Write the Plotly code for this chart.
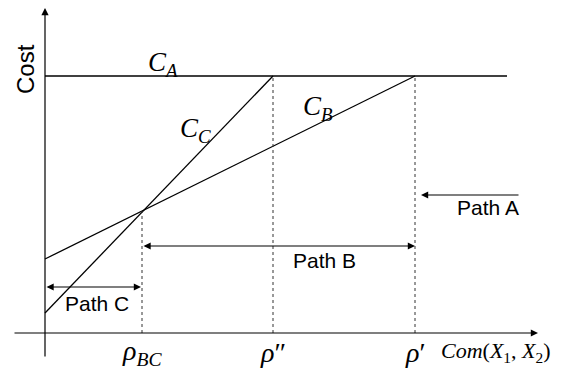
import plotly.graph_objects as go

# Values (1 unit ~ 1 px, origin at the axes corner)
rho_labels = ["<i>ρ</i><sub><i>BC</i></sub>", "<i>ρ</i>″", "<i>ρ</i>′"]
rho_values = [97, 228, 370]          # rho_BC, rho'', rho'
cost_a = 257                         # flat cost of path A
cost_b_start = 74                    # C_B at origin
cost_c_start = 20                    # C_C at origin
cost_at_rho_bc = 122                 # where C_B and C_C cross
cost_a_end = 462                     # C_A drawn up to here
path_labels = ["Path A", "Path B", "Path C"]

rho_bc, rho_pp, rho_p = rho_values

fig = go.Figure()

line = dict(color="black", width=1.3)
dash = dict(color="#333333", width=1, dash="dot")

# cost curves
fig.add_trace(go.Scatter(x=[0, cost_a_end], y=[cost_a, cost_a], mode="lines", line=line))
fig.add_trace(go.Scatter(x=[0, rho_p], y=[cost_b_start, cost_a], mode="lines", line=line))
fig.add_trace(go.Scatter(x=[0, rho_pp], y=[cost_c_start, cost_a], mode="lines", line=line))

# dotted drop lines
fig.add_trace(go.Scatter(x=[rho_bc, rho_bc], y=[0, cost_at_rho_bc], mode="lines", line=dash))
fig.add_trace(go.Scatter(x=[rho_pp, rho_pp], y=[0, cost_a], mode="lines", line=dash))
fig.add_trace(go.Scatter(x=[rho_p, rho_p], y=[0, cost_a], mode="lines", line=dash))

arrow = dict(xref="x", yref="y", axref="x", ayref="y", text="", showarrow=True,
             arrowhead=2, arrowsize=1.2, arrowwidth=1.2, arrowcolor="black",
             standoff=0, startstandoff=0)

annotations = [
    # axes
    dict(arrow, x=0, y=325, ax=0, ay=-25),
    dict(arrow, x=493, y=0, ax=-32, ay=0),
    # Path A (single, pointing left to rho')
    dict(arrow, x=rho_p + 6, y=138, ax=475, ay=138),
    # Path B (double)
    dict(arrow, x=rho_p, y=87, ax=rho_bc, ay=87, arrowside="end+start"),
    # Path C (double)
    dict(arrow, x=rho_bc - 1, y=46, ax=0, ay=46, arrowside="end+start"),
]

sans = dict(family="Liberation Sans, Arial", size=21, color="black")
serif = dict(family="Liberation Serif, Times New Roman", size=27, color="black")

for text, (px, py) in zip(path_labels, [(443, 126), (279, 73), (52, 30)]):
    annotations.append(dict(x=px, y=py, xref="x", yref="y", text=text,
                            showarrow=False, font=sans))

annotations.append(dict(x=-20, y=264, xref="x", yref="y", text="Cost", textangle=-90,
                        showarrow=False, font=dict(sans, size=24)))

for text, (px, py) in zip(["<i>C</i><sub><i>A</i></sub>", "<i>C</i><sub><i>B</i></sub>",
                           "<i>C</i><sub><i>C</i></sub>"],
                          [(118, 269), (273, 225), (150, 203)]):
    annotations.append(dict(x=px, y=py, xref="x", yref="y", text=text,
                            showarrow=False, font=serif))

for text, xv in zip(rho_labels, rho_values):
    annotations.append(dict(x=xv, y=-19, xref="x", yref="y", text=text,
                            showarrow=False, font=dict(serif, size=28)))

annotations.append(dict(x=451, y=-19, xref="x", yref="y",
                        text="<i>Com</i>(<i>X</i><sub>1</sub>, <i>X</i><sub>2</sub>)",
                        showarrow=False, font=dict(serif, size=22)))

# the page body has an 8px margin, so the figure is a bit smaller
# and the ranges start 8 units in
fig.update_layout(
    width=560, height=363,
    margin=dict(l=0, r=0, t=0, b=0),
    plot_bgcolor="white", paper_bgcolor="white",
    showlegend=False,
    xaxis=dict(range=[-37, 523], visible=False, fixedrange=True),
    yaxis=dict(range=[-38, 325], visible=False, fixedrange=True),
    annotations=annotations,
)

fig.write_html("out.html")
